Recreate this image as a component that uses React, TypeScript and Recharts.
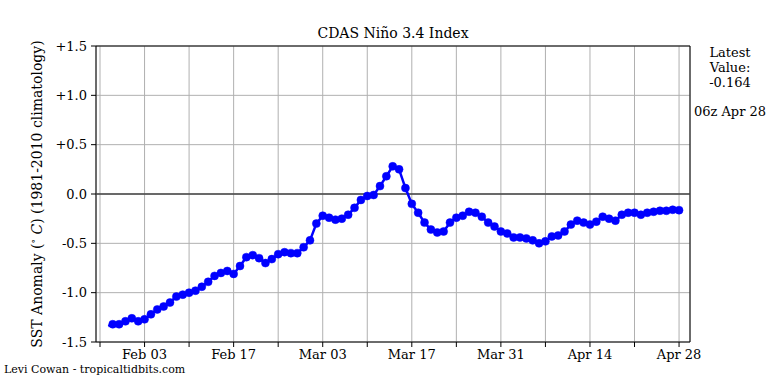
import { ComposedChart, Line, XAxis, YAxis, CartesianGrid, ReferenceLine, ReferenceArea } from 'recharts'

// day 0 = Jan 27; first line point sits a bit before the first daily marker
const startDay = 1.3
const startValue = -1.34

// daily anomalies, Jan 29 .. Apr 28
const anomalies = [
  -1.32, -1.32, -1.29, -1.26, -1.29, -1.27, -1.22, -1.17, -1.14, -1.10,
  -1.04, -1.02, -1.00, -0.98, -0.94, -0.89, -0.83, -0.80, -0.78, -0.81,
  -0.73, -0.64, -0.62, -0.65, -0.70, -0.66, -0.61, -0.59, -0.60, -0.60,
  -0.54, -0.47, -0.30, -0.22, -0.24, -0.26, -0.25, -0.21, -0.14, -0.06,
  -0.02, -0.01, 0.08, 0.18, 0.28, 0.25, 0.06, -0.10, -0.19, -0.29,
  -0.36, -0.39, -0.38, -0.29, -0.24, -0.22, -0.18, -0.19, -0.23, -0.29,
  -0.33, -0.38, -0.40, -0.44, -0.44, -0.45, -0.47, -0.50, -0.48, -0.43,
  -0.42, -0.38, -0.31, -0.27, -0.29, -0.31, -0.28, -0.23, -0.25, -0.27,
  -0.21, -0.19, -0.19, -0.21, -0.19, -0.18, -0.17, -0.17, -0.16, -0.164,
]

const weekTicks = [0, 7, 14, 21, 28, 35, 42, 49, 56, 63, 70, 77, 84, 91]
const weekLabels = ['', 'Feb 03', '', 'Feb 17', '', 'Mar 03', '', 'Mar 17', '', 'Mar 31', '', 'Apr 14', '', 'Apr 28']
const yTicks = [-1.5, -1.0, -0.5, 0, 0.5, 1.0, 1.5]

const xMin = -0.63
const xMax = 92.72
const font = 'DejaVu Serif'

const data = [
  { day: startDay, value: startValue, first: true },
  ...anomalies.map((v, i) => ({ day: i + 2, value: v, first: false })),
]

const fmtY = (v: number) => (v > 0 ? '+' + v.toFixed(1) : v.toFixed(1))
const fmtX = (v: number) => weekLabels[weekTicks.indexOf(v)] ?? ''

const Dot = (props: any) => {
  const { cx, cy, index } = props
  if (index === 0) return <g key={'d' + index} />
  return <circle key={'d' + index} cx={cx} cy={cy} r={4} fill="#0000ff" stroke="#0000ff" strokeWidth={0.5} />
}

export default function App() {
  return (
    <div style={{ position: 'absolute', left: 0, top: 0, width: 768, height: 384, background: '#fff' }}>
      <ComposedChart
        width={768}
        height={384}
        data={data}
        margin={{ top: 46, right: 78, left: 46, bottom: 12 }}
      >
        <CartesianGrid stroke="#b0b0b0" strokeWidth={1} />
        <XAxis
          dataKey="day"
          type="number"
          domain={[xMin, xMax]}
          ticks={weekTicks}
          tickFormatter={fmtX}
          allowDataOverflow
          height={30}
          axisLine={false}
          tickLine={{ stroke: '#000' }}
          tickSize={5}
          tickMargin={3}
          tick={{ fill: '#000', fontSize: 13, fontFamily: font }}
          interval={0}
        />
        <YAxis
          type="number"
          domain={[-1.5, 1.5]}
          ticks={yTicks}
          tickFormatter={fmtY}
          width={50}
          axisLine={false}
          tickLine={{ stroke: '#000' }}
          tickSize={5}
          tickMargin={4}
          tick={{ fill: '#000', fontSize: 13, fontFamily: font }}
          interval={0}
        />
        <ReferenceLine y={0} stroke="#444" strokeWidth={1.5} />
        <Line
          dataKey="value"
          stroke="#0000ff"
          strokeWidth={2.5}
          dot={Dot}
          activeDot={false}
          isAnimationActive={false}
        />
        <ReferenceArea x1={xMin} x2={xMax} y1={-1.5} y2={1.5} fill="none" stroke="#000" strokeWidth={1} fillOpacity={0} />
      </ComposedChart>
      <svg width={768} height={384} style={{ position: 'absolute', left: 0, top: 0, pointerEvents: 'none' }}>
        <text x={393} y={38} textAnchor="middle" fontFamily={font} fontSize={14} fill="#000">
          CDAS Niño 3.4 Index
        </text>
        <text
          transform="translate(42,194) rotate(-90)"
          textAnchor="middle"
          fontFamily={font}
          fontSize={14}
          fill="#000"
        >
          SST Anomaly (<tspan fontSize={9} dy={-6}>∘</tspan>
          <tspan dy={6} fontStyle="italic"> C</tspan>) (1981-2010 climatology)
        </text>
        <g fontFamily={font} fontSize={13} fill="#000" textAnchor="middle">
          <text x={730} y={57}>Latest</text>
          <text x={730} y={72}>Value:</text>
          <text x={730} y={87}>-0.164</text>
          <text x={730} y={116}>06z Apr 28</text>
        </g>
        <text x={4} y={373} fontFamily={font} fontSize={11} fill="#000">
          Levi Cowan - tropicaltidbits.com
        </text>
      </svg>
    </div>
  )
}
